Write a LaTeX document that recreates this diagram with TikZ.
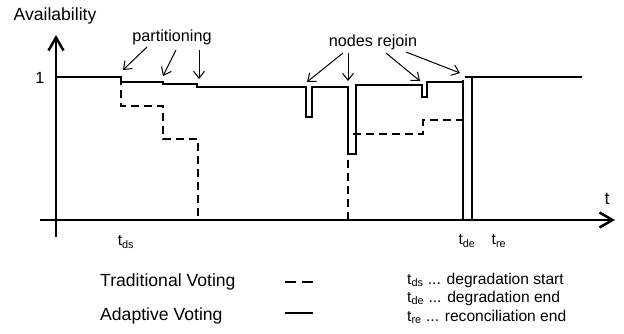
\documentclass[tikz,border=0pt]{standalone}
\usepackage{fontspec}
\setmainfont{Liberation Sans}
\usetikzlibrary{arrows.meta}
\begin{document}
\begin{tikzpicture}[x=1pt,y=-1pt,
  axis/.style={line width=2.5pt},
  axistip/.style={-{Straight Barb[length=13pt,width=15pt,line width=2.5pt]}},
  trad/.style={line width=1.3pt, dash pattern=on 8pt off 5pt},
  adapt/.style={line width=1.3pt},
  note/.style={-{Straight Barb[length=7pt,width=11pt]}, line width=1pt},
  big/.style={font=\fontsize{17.6}{19}\selectfont, inner sep=0pt},
  mid/.style={font=\fontsize{16.2}{18}\selectfont, inner sep=0pt},
  small/.style={font=\fontsize{15.6}{17}\selectfont, inner sep=0pt},
]
\useasboundingbox (0,0) rectangle (624,333);

% axes
\draw[axis,axistip] (56,237) -- (56,35);
\draw[axis,axistip] (40,220) -- (615,220);
\node[big] (avail) at (55,16) {Availability};
\node[mid] (one) at (40,78) {1};
\node[big] (tlab) at (607,199) {t};

% time marks below the axis
\node[small] (tds) at (126,242) {t\textsubscript{ds}};
\node[small] (tde) at (467,241) {t\textsubscript{de}};
\node[small] (tre) at (499,241) {t\textsubscript{re}};

% traditional voting
\draw[trad] (56,77) -- (121,77) -- (121,106) -- (163,106) -- (163,139)
  -- (198,139) -- (198,220);
\draw[trad] (348,220) -- (348,134) -- (423,134) -- (423,120) -- (463,120)
  -- (463,77) -- (582,77);

% adaptive voting
\draw[adapt] (56,77) -- (121,77) -- (121,82) -- (163,82) -- (163,84)
  -- (197,84) -- (197,87) -- (306,87) -- (306,117) -- (312,117) -- (312,87)
  -- (348,87) -- (348,154) -- (356,154) -- (356,85) -- (422,85) -- (422,97)
  -- (427,97) -- (427,82) -- (463,82) -- (463,220);
\draw[adapt] (465,77) -- (582,77);
\draw[adapt] (472,77) -- (472,220);

% annotations
\node[mid] (part) at (172,37) {partitioning};
\coordinate (p1s) at (147,47);  \coordinate (p1e) at (123,70);
\coordinate (p2s) at (176,50);  \coordinate (p2e) at (163,76);
\coordinate (p3s) at (199,50);  \coordinate (p3e) at (199,79);
\draw[note] (p1s) -- (p1e);
\draw[note] (p2s) -- (p2e);
\draw[note] (p3s) -- (p3e);

\node[mid] (rejoin) at (373,42) {nodes rejoin};
\coordinate (r1s) at (343,53);  \coordinate (r1e) at (307,82);
\coordinate (r2s) at (348,53);  \coordinate (r2e) at (348,81);
\coordinate (r3s) at (386,53);  \coordinate (r3e) at (420,81);
\coordinate (r4s) at (406,52);  \coordinate (r4e) at (460,73);
\draw[note] (r1s) -- (r1e);
\draw[note] (r2s) -- (r2e);
\draw[note] (r3s) -- (r3e);
\draw[note] (r4s) -- (r4e);

% legend
\node[big,anchor=west] (tradlbl) at (100,282) {Traditional Voting};
\node[big,anchor=west] (adaptlbl) at (100,316) {Adaptive Voting};
\coordinate (ta) at (285,282); \coordinate (tb) at (313,282);
\coordinate (aa) at (285,313); \coordinate (ab) at (313,313);
\draw[line width=1.3pt, dash pattern=on 11pt off 6pt] (ta) -- (tb);
\draw[adapt] (aa) -- (ab);

\node[small,anchor=west] (kds) at (407,280) {t\textsubscript{ds} ... degradation start};
\node[small,anchor=west] (kde) at (407,298) {t\textsubscript{de} ... degradation end};
\node[small,anchor=west] (kre) at (407,317) {t\textsubscript{re} ... reconciliation end};
\end{tikzpicture}
\end{document}
